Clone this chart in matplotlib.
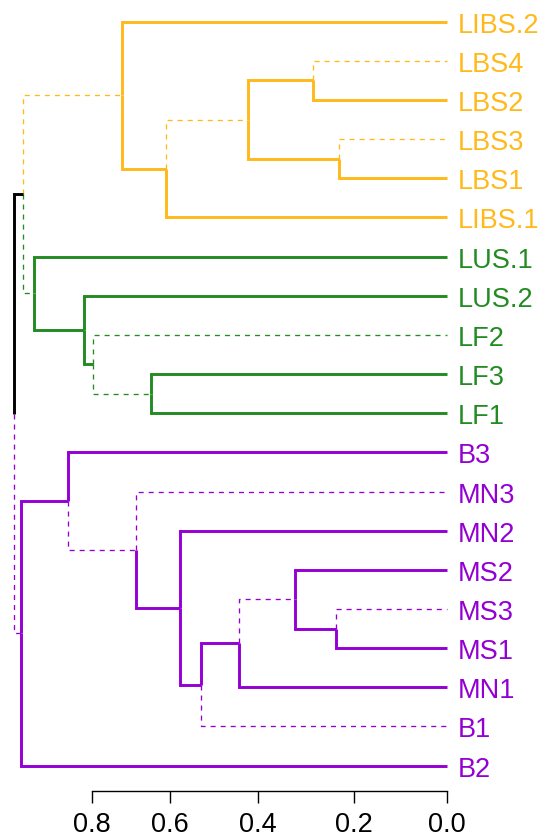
import numpy as np
import matplotlib
matplotlib.use("Agg")
import matplotlib.pyplot as plt
from matplotlib.scale import FuncScale

# ---------------- data ----------------
leaf_labels = ["LIBS.2", "LBS4", "LBS2", "LBS3", "LBS1", "LIBS.1",
               "LUS.1", "LUS.2", "LF2", "LF3", "LF1",
               "B3", "MN3", "MN2", "MS2", "MS3", "MS1", "MN1", "B1", "B2"]
leaf_groups = ["Y"] * 6 + ["G"] * 5 + ["P"] * 9

# merges: name, upper child, lower child, height
node_names  = ["Y1", "Y2", "Y3", "Y4", "Y5",
               "G1", "G2", "G3", "G4", "YG",
               "P8", "P7", "P6", "P5", "P4", "P3", "P2", "P1", "ROOT"]
node_upper  = ["LBS4", "LBS3", "Y1", "Y3", "LIBS.2",
               "LF3", "LF2", "LUS.2", "LUS.1", "Y5",
               "MS3", "MS2", "P7", "P6", "MN2", "MN3", "B3", "P2", "YG"]
node_lower  = ["LBS2", "LBS1", "Y2", "LIBS.1", "Y4",
               "LF1", "G1", "G2", "G3", "G4",
               "MS1", "P8", "MN1", "B1", "P5", "P4", "P3", "B2", "P1"]
node_height = [0.285, 0.231, 0.423, 0.610, 0.722,
               0.647, 0.796, 0.821, 0.949, 0.977,
               0.236, 0.323, 0.443, 0.528, 0.577, 0.687, 0.861, 0.982, 1.000]

# branches (named by their child) drawn dashed
dashed_branches = ["LBS4", "LBS3", "Y3", "Y5", "G4", "LF2", "G1",
                   "P1", "P3", "MN3", "B1", "P7", "MS3"]

# axis ticks of the (non-uniform) height axis and their screen positions
tick_values = [0.0, 0.2, 0.4, 0.6, 0.8]
tick_labels = ["0.0", "0.2", "0.4", "0.6", "0.8"]
tick_screen = [446.7, 353.7, 258.0, 169.7, 91.7]

# ---------------- style ----------------
group_colors = {"Y": "#FFB91A", "G": "#228B22", "P": "#9400D3", "mix": "black"}
FONT = "Liberation Sans"
W, H = 545, 837
AX_BOTTOM_PX = 791.7

# ---------------- scale (increasing transform = -screen position) ----------------
tv = np.array(tick_values, dtype=float)
ts = np.array(tick_screen, dtype=float)
slope_hi = (ts[-2] - ts[-1]) / (tv[-1] - tv[-2])
slope_lo = (ts[0] - ts[1]) / (tv[1] - tv[0])


def screen(v):
    v = np.asarray(v, dtype=float)
    out = np.interp(v, tv, ts)
    out = np.where(v > tv[-1], ts[-1] - (v - tv[-1]) * slope_hi, out)
    out = np.where(v < tv[0], ts[0] - (v - tv[0]) * slope_lo, out)
    return out


def unscreen(p):
    p = np.asarray(p, dtype=float)
    out = np.interp(p, ts[::-1], tv[::-1])
    out = np.where(p < ts[-1], tv[-1] + (ts[-1] - p) / slope_hi, out)
    out = np.where(p > ts[0], tv[0] + (ts[0] - p) / slope_lo, out)
    return out


def fwd(v):
    return -screen(v)


def inv(t):
    return unscreen(-np.asarray(t, dtype=float))


# ---------------- tree geometry ----------------
height = {lab: 0.0 for lab in leaf_labels}
ypos = {lab: float(i) for i, lab in enumerate(leaf_labels)}
group = {lab: g for lab, g in zip(leaf_labels, leaf_groups)}
children = {}
for name, up, lo, h in zip(node_names, node_upper, node_lower, node_height):
    height[name] = h
    ypos[name] = (ypos[up] + ypos[lo]) / 2.0
    children[name] = (up, lo)
    group[name] = group[up] if group[up] == group[lo] else "mix"

fig = plt.figure(figsize=(W / 100, H / 100), dpi=100)
ax = fig.add_axes([0, 1 - AX_BOTTOM_PX / H, 1, AX_BOTTOM_PX / H])
ax.set_xscale(FuncScale(ax, (fwd, inv)))
ax.set_xlim(float(unscreen(0.0)), float(unscreen(W)))
ax.set_ylim(19.64, -0.58)

for name in node_names:
    for c in children[name]:
        xs = [height[name], height[name], height[c]]
        ys = [ypos[name], ypos[c], ypos[c]]
        col = group_colors[group[c]]
        if c in dashed_branches:
            ax.plot(xs, ys, color=col, lw=0.95, linestyle=(0, (3.8, 3.8)),
                    dash_capstyle="butt", solid_joinstyle="miter")
        else:
            ax.plot(xs, ys, color=col, lw=2.1, solid_capstyle="butt",
                    solid_joinstyle="miter")

for lab in leaf_labels:
    ax.annotate(lab, xy=(0.0, ypos[lab]), xytext=(7.6, -7.2),
                textcoords="offset points", ha="left", va="baseline",
                color=group_colors[group[lab]], fontsize=19.5,
                family=FONT, annotation_clip=False)

for s in ["top", "right", "left"]:
    ax.spines[s].set_visible(False)
ax.spines["bottom"].set_bounds(tick_values[0], tick_values[-1])
ax.spines["bottom"].set_linewidth(1.0)
ax.set_yticks([])
ax.set_xticks(tick_values)
ax.set_xticklabels(tick_labels, family=FONT, fontsize=19.5)
ax.xaxis.set_minor_locator(matplotlib.ticker.NullLocator())
ax.tick_params(axis="x", length=8.4, width=1.0, pad=6.5, colors="black")
ax.patch.set_visible(False)

fig.savefig("out.png", dpi=100)
